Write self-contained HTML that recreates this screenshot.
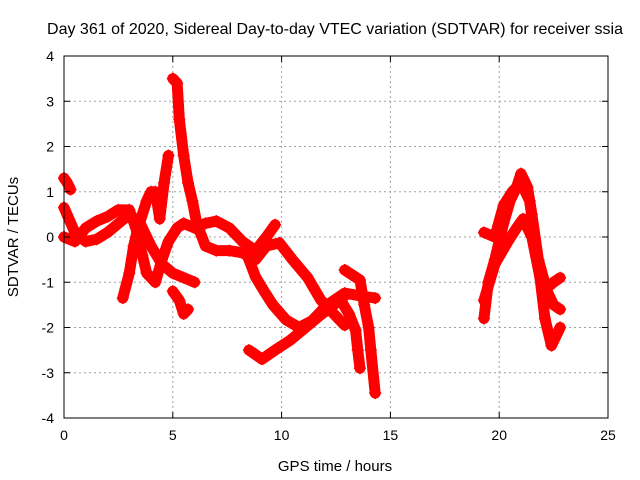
<!DOCTYPE html>
<html><head><meta charset="utf-8"><style>
body{margin:0;background:#fff;}
svg{display:block;font-family:"Liberation Sans",sans-serif;font-size:14px;}
</style></head><body>
<svg id="chart" width="640" height="480">
<rect width="640" height="480" fill="#fff"/>
<text x="335" y="34" text-anchor="middle" font-size="16">Day 361 of 2020, Sidereal Day-to-day VTEC variation (SDTVAR) for receiver ssia</text>
<text x="335" y="471" text-anchor="middle" font-size="15">GPS time / hours</text>
<text transform="translate(18,237) rotate(-90)" text-anchor="middle" font-size="15">SDTVAR / TECUs</text>
<g id="grid"></g><g id="marks"></g><g id="axes"></g>
</svg>
<script>
const xTicks=[0,5,10,15,20,25];
const yTicks=[-4,-3,-2,-1,0,1,2,3,4];
const trackA_t=[0,0.15,0.3];
const trackA_v=[1.3,1.2,1.05];
const track1_t=[0,0.5,1,1.5,2,2.5,3,3.5,4,4.5,5,5.5,6];
const track1_v=[0.65,0.1,-0.1,-0.05,0.1,0.3,0.5,0.3,-0.2,-0.6,-0.8,-0.9,-1.0];
const track2_t=[0,0.5,1,1.5,2,2.5,3,3.3,3.6,3.8,4.2,4.5,4.8,5.2,5.5,6,6.5,7,7.6,8.2,8.8,9.3,9.7];
const track2_v=[0,-0.1,0.2,0.35,0.45,0.6,0.6,0.2,-0.4,-0.8,-1.0,-0.5,-0.1,0.2,0.3,0.2,0.3,0.35,0.2,-0.1,-0.3,0,0.27];
const track3_t=[2.7,3,3.2,3.4,3.8,4,4.2,4.4,4.6,4.8];
const track3_v=[-1.35,-0.8,-0.2,0.2,0.8,1.0,1.0,0.4,1.2,1.8];
const track4_t=[5,5.2,5.3,5.5,5.7,5.9,6.1,6.5,7,7.6,8.2,8.8,9.3,9.9,10.5,11.2,11.8,12.2,12.9];
const track4_v=[3.5,3.4,2.6,1.8,1.2,0.8,0.3,-0.2,-0.3,-0.3,-0.35,-0.5,-0.2,-0.13,-0.5,-0.9,-1.39,-1.6,-1.95];
const track5_t=[5,5.3,5.5,5.7];
const track5_v=[-1.2,-1.4,-1.7,-1.6];
const track6_t=[8.5,8.8,9.2,9.6,10.2,10.8,11.4,12.1,12.9,13.6,14.3];
const track6_v=[-0.5,-0.88,-1.2,-1.5,-1.83,-2.0,-1.85,-1.5,-1.24,-1.3,-1.35];
const track7_t=[8.5,9.1,9.7,10.4,11.1,11.8,12.4,12.9];
const track7_v=[-2.5,-2.7,-2.5,-2.28,-2.0,-1.72,-1.5,-1.3];
const track8_t=[12.9,13.6,13.8,14.0,14.1,14.3];
const track8_v=[-0.73,-0.95,-1.5,-2.0,-2.5,-3.45];
const track9_t=[12.7,13.1,13.4,13.5,13.6];
const track9_v=[-1.39,-1.7,-2.06,-2.5,-2.9];
const trackR1_t=[19.3,19.5,19.8,20.2,20.5,20.8,21,21.3,21.5,21.8,22.2,22.5,22.8];
const trackR1_v=[-1.8,-1.0,-0.5,0.3,0.8,1.1,1.4,1.1,0.5,-0.5,-1.2,-1.5,-1.6];
const trackR2_t=[19.3,19.8,20.2,20.6,21,21.4,21.8,22.1,22.4,22.8];
const trackR2_v=[0.1,0,0.7,1.0,1.2,0.8,-0.6,-1.8,-2.4,-2.0];
const trackR3_t=[19.3,19.8,20.4,20.8,21.1,21.5,22,22.5,22.8];
const trackR3_v=[-1.4,-0.6,-0.1,0.2,0.4,0,-1.2,-1.0,-0.9];
const tracks=[[trackA_t,trackA_v],[track1_t,track1_v],[track2_t,track2_v],[track3_t,track3_v],[track4_t,track4_v],[track5_t,track5_v],[track6_t,track6_v],[track7_t,track7_v],[track8_t,track8_v],[track9_t,track9_v],[trackR1_t,trackR1_v],[trackR2_t,trackR2_v],[trackR3_t,trackR3_v]];

const X0=64,X1=608,Y0=418,Y1=56;
const xs=h=>X0+(h-0)/(25-0)*(X1-X0);
const ys=v=>Y0-(v+4)/8*(Y0-Y1);
const NS='http://www.w3.org/2000/svg';
function mk(tag,attrs,parent){const e=document.createElementNS(NS,tag);for(const k in attrs)e.setAttribute(k,attrs[k]);parent.appendChild(e);return e;}
const grid=document.getElementById('grid'),axes=document.getElementById('axes'),marks=document.getElementById('marks');
xTicks.forEach(t=>{
  const x=xs(t);
  if(t>0&&t<25){const g=mk('line',{x1:x,x2:x,y1:Y1,y2:Y0,stroke:'#a0a0a0','stroke-dasharray':'2,3'},grid);
  
  }
  mk('line',{x1:x,x2:x,y1:Y0,y2:Y0-6,stroke:'#000'},axes);
  mk('line',{x1:x,x2:x,y1:Y1,y2:Y1+6,stroke:'#000'},axes);
  const l=mk('text',{x:x,y:Y0+22,'text-anchor':'middle'},axes);l.textContent=t;
  
  
});
yTicks.forEach(t=>{
  const y=ys(t);
  if(t>-4&&t<4){const g=mk('line',{x1:X0,x2:X1,y1:y,y2:y,stroke:'#a0a0a0','stroke-dasharray':'2,3'},grid);
  
  }
  mk('line',{x1:X0,x2:X0+6,y1:y,y2:y,stroke:'#000'},axes);
  mk('line',{x1:X1,x2:X1-6,y1:y,y2:y,stroke:'#000'},axes);
  const l=mk('text',{x:X0-10,y:y+5,'text-anchor':'end'},axes);l.textContent=t;
  
  
});
const fr=mk('rect',{x:X0,y:Y1,width:X1-X0,height:Y0-Y1,fill:'none',stroke:'#000'},axes);


tracks.forEach(([t,v])=>{
  const pts=t.map((h,i)=>xs(h)+','+ys(v[i])).join(' ');
  const pl=mk('polyline',{points:pts,fill:'none',stroke:'#f00','stroke-width':11,'stroke-linejoin':'round','stroke-linecap':'round'},marks);
  
  
  t.forEach((h,i)=>{
    const x=xs(h),y=ys(v[i]);
    const p=mk('path',{d:`M${x-6},${y}H${x+6}M${x},${y-6}V${y+6}`,stroke:'#f00','stroke-width':1.5},marks);
    
    
  });
});
</script>
</body></html>
